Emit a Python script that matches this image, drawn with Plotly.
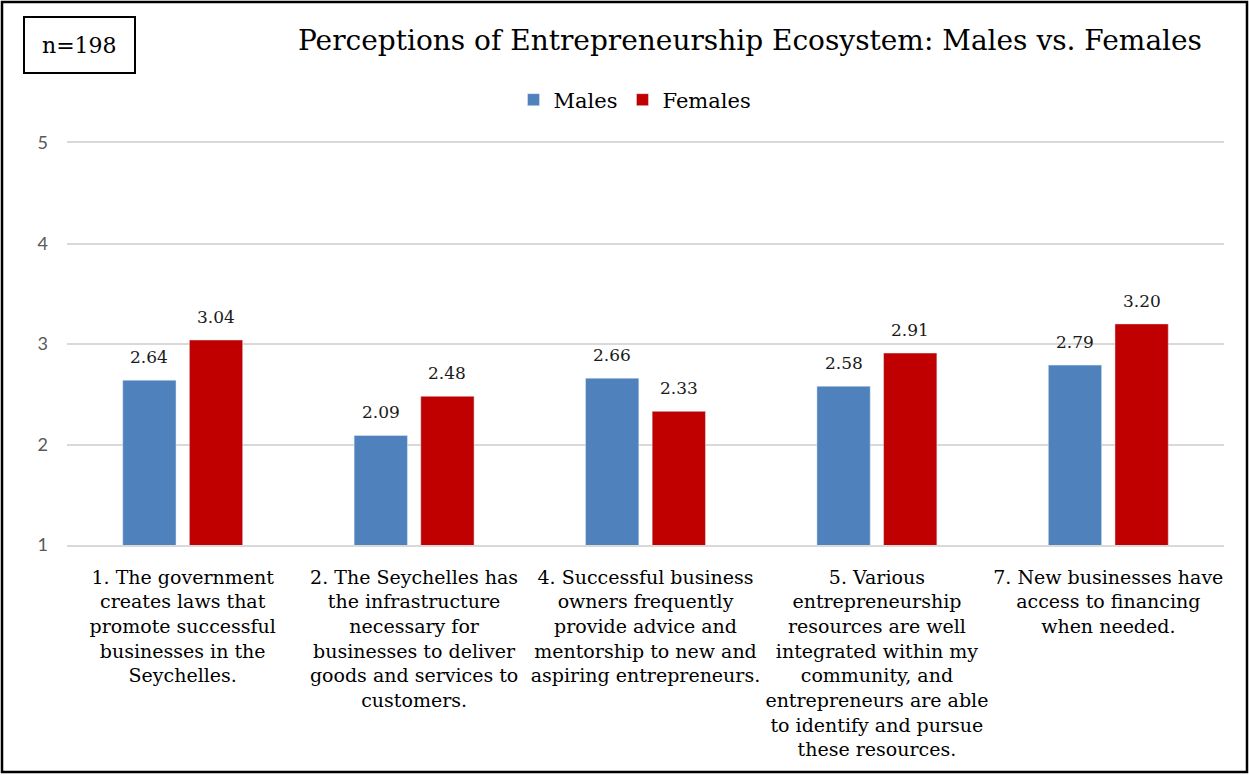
import plotly.graph_objects as go

# Survey statements (x categories), with line breaks for wrapped tick labels
categories = [
    "1. The government<br>creates laws that<br>promote successful<br>businesses in the<br>Seychelles.",
    "2. The Seychelles has<br>the infrastructure<br>necessary for<br>businesses to deliver<br>goods and services to<br>customers.",
    "4. Successful business<br>owners frequently<br>provide advice and<br>mentorship to new and<br>aspiring entrepreneurs.",
    "5. Various<br>entrepreneurship<br>resources are well<br>integrated within my<br>community, and<br>entrepreneurs are able<br>to identify and pursue<br>these resources.",
    "7. New businesses have<br>access to financing<br>when needed.",
]
males = [2.64, 2.09, 2.66, 2.58, 2.79]
females = [3.04, 2.48, 2.33, 2.91, 3.20]
y_ticks = [1, 2, 3, 4, 5]

W, H = 1249, 775
ML, MR, MT, MB = 67, 25, 143, 230
PW, PH = W - ML - MR, H - MT - MB
CAT_W = PW / len(categories)
BARGAP, GROUPGAP = 0.424, 0.2
SLOT = CAT_W * (1 - BARGAP) / 2


def px(x):
    return (x - ML) / PW


def py(y):
    return (H - MB - y) / PH


SERIF = "DejaVu Serif"

fig = go.Figure()
fig.add_trace(go.Bar(name="Males", x=categories, y=males, base=0,
                     marker=dict(color="#4F81BD")))
fig.add_trace(go.Bar(name="Females", x=categories, y=females, base=0,
                     marker=dict(color="#C00000")))

# value labels above each bar
annotations = []
for series, shift in ((males, -SLOT / 2), (females, SLOT / 2)):
    for cat, v in zip(categories, series):
        annotations.append(dict(
            x=cat, y=v, xref="x", yref="y", text=f"{v:.2f}",
            xshift=shift, yshift=11, xanchor="center", yanchor="bottom",
            showarrow=False,
            font=dict(family=SERIF, size=17, color="#1a1a1a"),
        ))

annotations.append(dict(
    text="n=198", xref="paper", yref="paper",
    x=px(79.5), y=py(45), xanchor="center", yanchor="middle",
    showarrow=False, font=dict(family=SERIF, size=22, color="black"),
))

fig.update_layout(
    width=W, height=H,
    margin=dict(l=ML, r=MR, t=MT, b=MB),
    paper_bgcolor="white", plot_bgcolor="white",
    barmode="group", bargap=BARGAP, bargroupgap=GROUPGAP,
    title=dict(
        text="Perceptions of Entrepreneurship Ecosystem: Males vs. Females",
        x=px(750), xanchor="center", xref="paper",
        y=1 - 40 / H, yanchor="middle",
        font=dict(family=SERIF, size=28, color="black"),
    ),
    legend=dict(
        orientation="h", x=px(635), xanchor="center", xref="paper",
        y=py(100), yanchor="middle",
        font=dict(family=SERIF, size=21, color="black"),
        itemwidth=30, traceorder="normal",
    ),
    xaxis=dict(
        showgrid=False, showline=True, mirror=True,
        linecolor="#D9D9D9", linewidth=1.5, ticks="",
        tickfont=dict(family=SERIF, size=19, color="black"),
        tickangle=0, ticklabelstandoff=14,
    ),
    yaxis=dict(
        range=[1, 5], tickvals=y_ticks, showgrid=True,
        gridcolor="#D9D9D9", gridwidth=1.5, zeroline=False,
        tickfont=dict(family="Lato", size=18, color="#595959"),
        ticks="", ticklabelstandoff=18,
    ),
    shapes=[
        # outer frame
        dict(type="rect", xref="paper", yref="paper",
             x0=px(2), x1=px(1247), y0=py(772), y1=py(2),
             line=dict(color="black", width=2.5), fillcolor="rgba(0,0,0,0)"),
        # sample-size box
        dict(type="rect", xref="paper", yref="paper",
             x0=px(24), x1=px(135), y0=py(73), y1=py(17),
             line=dict(color="black", width=2), fillcolor="rgba(0,0,0,0)"),
    ],
    annotations=annotations,
)

fig.write_html("out.html")
